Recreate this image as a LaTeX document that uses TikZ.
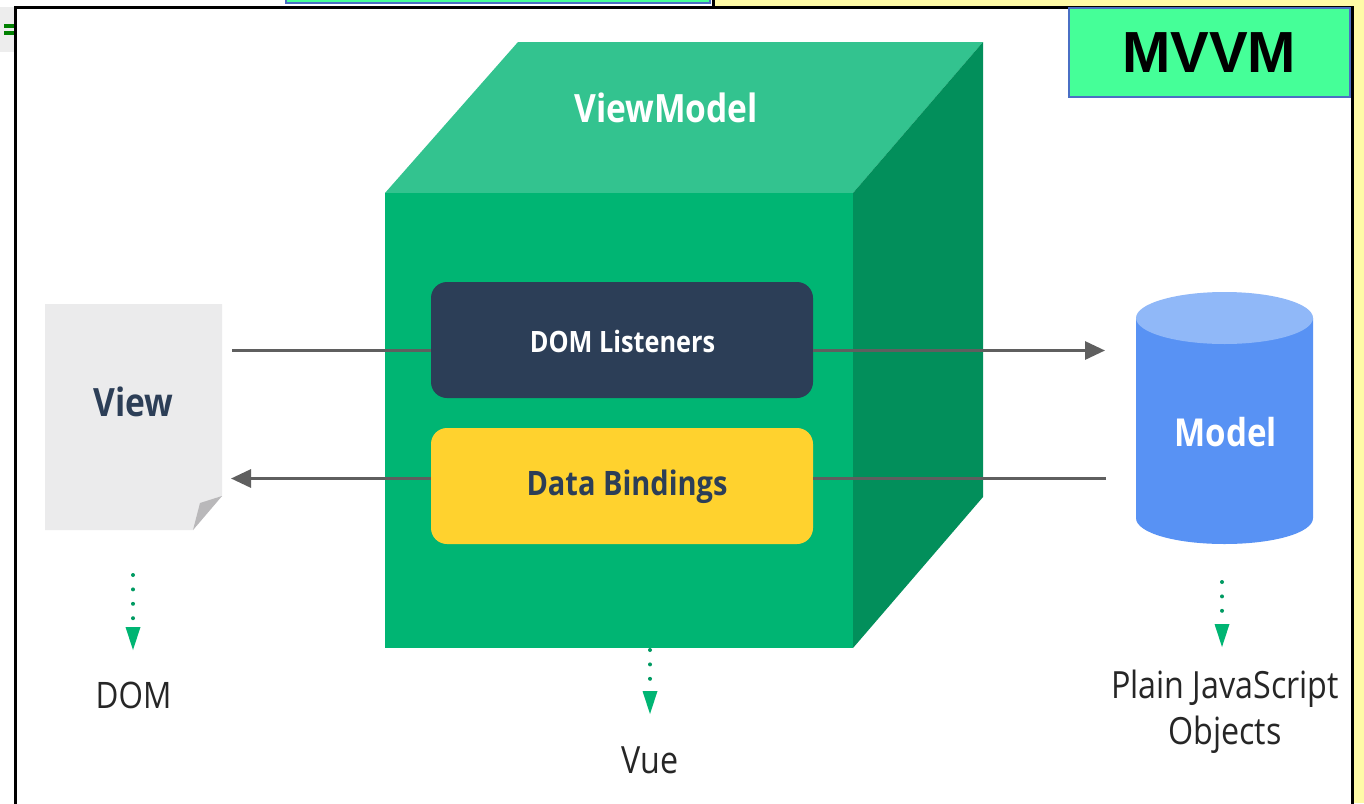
\documentclass[tikz,border=0pt]{standalone}
\usepackage{fontspec}
\setmainfont{Open Sans}
\newfontfamily\labelfont[FakeStretch=0.86]{Open Sans}
\newfontfamily\boldlabel[FakeStretch=0.86]{Open Sans}
\usetikzlibrary{arrows.meta}
\definecolor{cubefront}{HTML}{00B573}
\definecolor{cubetop}{HTML}{33C38F}
\definecolor{cubeside}{HTML}{028F5B}
\definecolor{navy}{HTML}{2C3E57}
\definecolor{amber}{HTML}{FFD22E}
\definecolor{modelblue}{HTML}{5892F4}
\definecolor{modeltop}{HTML}{90B8F8}
\definecolor{pagegrey}{HTML}{EBEBEC}
\definecolor{foldgrey}{HTML}{B9B8BA}
\definecolor{linegrey}{HTML}{5F5F5F}
\definecolor{mint}{HTML}{45FF98}
\definecolor{edgeblue}{HTML}{4A6FC4}
\definecolor{paleyellow}{HTML}{FFFBA6}
\tikzset{
  inner/.style={rounded corners=16pt,minimum width=382pt,minimum height=116pt,inner sep=0pt},
  conn/.style={draw=linegrey,line width=3pt},
  connarrow/.style={conn,-{Triangle[length=20pt,width=18pt,fill=linegrey]}},
  dotarrow/.style={draw=cubefront!85!black,line width=4pt,line cap=round,dash pattern=on 0pt off 14.4pt,
     -{Triangle[length=23pt,width=15pt,color=cubefront,fill=cubefront,line width=0pt,sep=0pt]}},
  plain/.style={font=\labelfont\fontsize{37.5}{46}\selectfont,text=black!85,align=center,inner sep=0pt},
  heavy/.style={font=\boldlabel\bfseries\fontsize{37.5}{44}\selectfont,inner sep=0pt},
}
\begin{document}
\begin{tikzpicture}[x=1pt,y=-1pt]
\useasboundingbox (0,0) rectangle (1364,803);
\fill[white] (0,0) rectangle (1364,803);
% surroundings of the frame
\fill[paleyellow] (715,0) rectangle (1364,7);
\fill[paleyellow] (1352,0) rectangle (1364,803);
\fill[black!7] (0,7) rectangle (15,52);
\fill[green!50!black] (4,24) rectangle (14,28);
\fill[green!50!black] (4,31) rectangle (14,35);
\fill[mint] (286,-3) rectangle (710,2);
\draw[edgeblue,line width=1.5pt] (286,-3) rectangle (710,3);
\draw[line width=3pt] (713,-3) -- (713,7);
\draw[line width=3pt] (15.5,810) -- (15.5,7) -- (1352,7) -- (1352,810);
% cube
\fill[cubetop] (385,193) -- (518,42) -- (983,42) -- (853,193) -- cycle;
\fill[cubeside] (853,193) -- (983,42) -- (983,497) -- (853,648) -- cycle;
\fill[cubefront] (385,193) rectangle (853,648);
\node[heavy,text=white,font=\boldlabel\bfseries\fontsize{39}{44}\selectfont] (vm) at (666,108) {ViewModel};
% view page
\fill[pagegrey] (45,304) -- (222,304) -- (222,496) -- (193,530) -- (45,530) -- cycle;
\fill[foldgrey] (193,530) -- (200,503) -- (222,496) -- cycle;
\node[heavy,text=navy,font=\boldlabel\bfseries\fontsize{39}{44}\selectfont] (view) at (133.5,402) {View};
% model cylinder
\fill[modelblue] (1136,318) -- (1136,518) .. controls (1136,533) and (1176,544) .. (1224.5,544)
   .. controls (1273,544) and (1313,533) .. (1313,518) -- (1313,318) -- cycle;
\fill[modeltop] (1224.5,318) ellipse [x radius=88.5pt,y radius=26pt];
\node[heavy,text=white,font=\boldlabel\bfseries\fontsize{38.5}{44}\selectfont] (model) at (1225.5,432) {Model};
% inner boxes
\node[inner,fill=navy] (dom) at (622,340) {};
\node[inner,fill=amber] (data) at (622,486) {};
\node[font=\boldlabel\bfseries\fontsize{29.4}{34}\selectfont,text=white,inner sep=0pt] (domtext) at (622.5,341) {DOM Listeners};
\node[font=\boldlabel\bfseries\fontsize{33.7}{40}\selectfont,text=navy,inner sep=0pt] (datatext) at (627,487) {Data Bindings};
% connector ends
\coordinate (vout) at (232,350.5);
\coordinate (min) at (1105,350.5);
\coordinate (mout) at (1106,478.5);
\coordinate (vin) at (231,478.5);
\draw[conn] (vout) -- (vout -| dom.west);
\draw[connarrow] (min -| dom.east) -- (min);
\draw[conn] (mout) -- (mout -| data.east);
\draw[connarrow] (vin -| data.west) -- (vin);
% dotted arrows and lower labels
\node[plain,font=\labelfont\fontsize{36.5}{46}\selectfont] (domlabel) at (133.5,695) {DOM};
\node[plain] (vue) at (650,760) {Vue};
\node[plain] (pjo) at (1225,712) {Plain JavaScript\\Objects};
\coordinate (a1) at (133,575); \coordinate (a1e) at (133,650);
\coordinate (a2) at (650,650); \coordinate (a2e) at (650,714);
\coordinate (a3) at (1222,582); \coordinate (a3e) at (1222,647);
\draw[dotarrow] (a1) -- (a1e);
\draw[dotarrow] (a2) -- (a2e);
\draw[dotarrow] (a3) -- (a3e);
% MVVM badge
\node[draw=edgeblue,line width=2pt,fill=mint,minimum width=281pt,minimum height=89pt,inner sep=0pt,
  font=\fontspec{Liberation Sans}\bfseries\fontsize{58}{60}\selectfont,text=black] (mvvm) at (1209,52.5) {MVVM};
\end{tikzpicture}
\end{document}
